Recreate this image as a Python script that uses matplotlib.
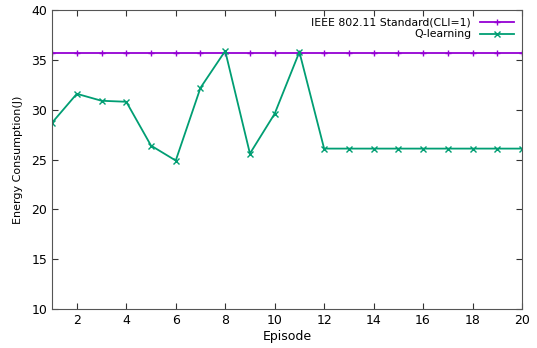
import numpy as np
import matplotlib.pyplot as plt

# Episode numbers and energy values
episodes = np.arange(1, 21)
ieee = [35.7] * 20
qlearn = [28.7, 31.6, 30.9, 30.8, 26.4, 24.9, 32.2, 35.9, 25.6, 29.6,
          35.8, 26.1, 26.1, 26.1, 26.1, 26.1, 26.1, 26.1, 26.1, 26.1]

fig = plt.figure(figsize=(5.37, 3.48), dpi=100)
ax = fig.add_axes([0.097, 0.112, 0.875, 0.859])

ax.plot(episodes, ieee, color='#9400d3', marker='+', markersize=5, lw=1.3,
        label='IEEE 802.11 Standard(CLI=1)')
ax.plot(episodes, qlearn, color='#009e73', marker='x', markersize=5, lw=1.3,
        label='Q-learning')

ax.set_xlim(1, 20)
ax.set_ylim(10, 40)
ax.set_xticks(np.arange(2, 21, 2))
ax.set_yticks(np.arange(10, 41, 5))
ax.tick_params(direction='in', top=True, right=True, labelsize=9, length=4,
               color='#333333')
for s in ax.spines.values():
    s.set_color('#555555')

ax.set_xlabel('Episode', fontsize=9, labelpad=2)
ax.set_ylabel('Energy Consumption(J)', fontsize=8, labelpad=6)
ax.legend(loc='upper right', frameon=False, markerfirst=False, fontsize=7.8,
          handlelength=3.2, borderaxespad=0.3, labelspacing=0.15)

fig.savefig('out.png')
